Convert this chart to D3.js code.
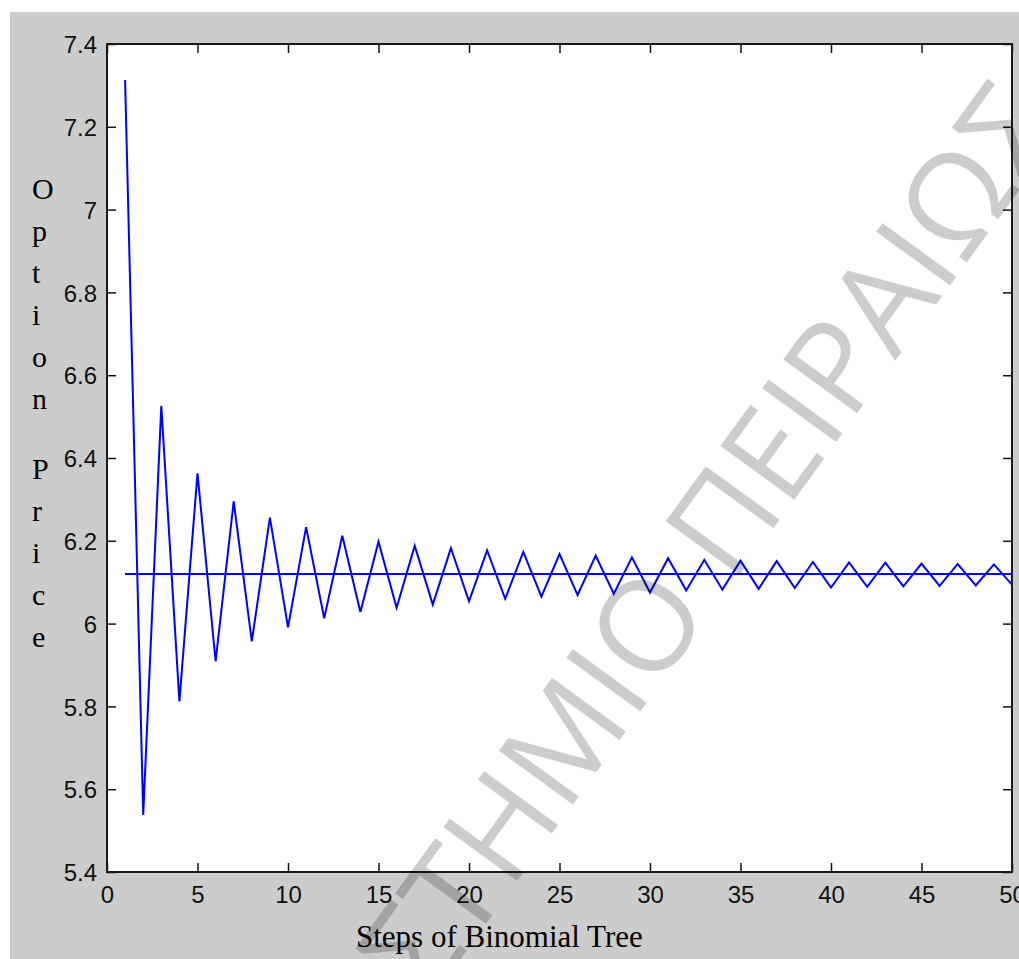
<!DOCTYPE html>
<html>
<head>
<meta charset="utf-8">
<script src="https://cdn.jsdelivr.net/npm/d3@7/dist/d3.min.js"></script>
<style>
  html, body { margin: 0; padding: 0; background: #ffffff; }
  svg { display: block; }
</style>
</head>
<body>
<script>
// ---- data ----
const steps = d3.range(1, 51);
const optionPrice = [
  7.313, 5.538, 6.526, 5.812, 6.363, 5.909, 6.295, 5.957, 6.256, 5.991,
  6.233, 6.013, 6.212, 6.028, 6.198, 6.038, 6.188, 6.046, 6.182, 6.054,
  6.177, 6.060, 6.173, 6.065, 6.168, 6.069, 6.164, 6.072, 6.160, 6.075,
  6.158, 6.080, 6.154, 6.082, 6.152, 6.084, 6.151, 6.086, 6.149, 6.087,
  6.148, 6.089, 6.147, 6.090, 6.145, 6.091, 6.144, 6.092, 6.143, 6.094
];
const blackScholes = 6.12;
const xTicks = [0, 5, 10, 15, 20, 25, 30, 35, 40, 45, 50];
const yTicks = [5.4, 5.6, 5.8, 6.0, 6.2, 6.4, 6.6, 6.8, 7.0, 7.2, 7.4];
const xDomain = [0, 50];
const yDomain = [5.4, 7.4];
const xLabel = "Steps of Binomial Tree";
const yLabel = "Option Price";
const watermark = "ΠΑΝΕΠΙΣΤΗΜΙΟ ΠΕΙΡΑΙΩΣ";

// ---- layout ----
const W = 1019, H = 959;
const ax = { left: 107, top: 44, right: 1012, bottom: 872 };

const svg = d3.select("body").append("svg")
  .attr("width", W).attr("height", H);

svg.append("rect").attr("x", 0).attr("y", 0).attr("width", W).attr("height", H).attr("fill", "#ffffff");
svg.append("rect").attr("x", 10).attr("y", 12).attr("width", W - 10).attr("height", H - 12).attr("fill", "#cccccc");
svg.append("rect")
  .attr("x", ax.left).attr("y", ax.top)
  .attr("width", ax.right - ax.left).attr("height", ax.bottom - ax.top)
  .attr("fill", "#ffffff");

const x = d3.scaleLinear().domain(xDomain).range([ax.left, ax.right]);
const y = d3.scaleLinear().domain(yDomain).range([ax.bottom, ax.top]);

// ---- data lines ----
svg.append("clipPath").attr("id", "clip")
  .append("rect").attr("x", ax.left).attr("y", ax.top)
  .attr("width", ax.right - ax.left).attr("height", ax.bottom - ax.top);

const plot = svg.append("g").attr("clip-path", "url(#clip)");

plot.append("path")
  .datum([[steps[0], blackScholes], [steps[steps.length - 1], blackScholes]])
  .attr("d", d3.line().x(d => x(d[0])).y(d => y(d[1])))
  .attr("fill", "none").attr("stroke", "#0000ff").attr("stroke-width", 2)
  .attr("shape-rendering", "crispEdges");

plot.append("path")
  .datum(steps.map((s, i) => [s, optionPrice[i]]))
  .attr("d", d3.line().x(d => x(d[0])).y(d => y(d[1])))
  .attr("fill", "none").attr("stroke", "#0000ff").attr("stroke-width", 2)
  .attr("stroke-linejoin", "miter");

// ---- axes ----
const tickFont = "'Liberation Sans', Arial, Helvetica, sans-serif";
const fmtY = d => (Math.abs(d - Math.round(d)) < 1e-9 ? d3.format("d")(d) : d3.format(".1f")(d));

function styleAxis(g) {
  g.selectAll(".domain").remove();
  g.selectAll(".tick line").attr("stroke", "#111").attr("stroke-width", 1.5);
  g.selectAll(".tick text").attr("fill", "#111")
    .attr("font-family", tickFont).attr("font-size", 24);
}

svg.append("g").attr("transform", `translate(0,${ax.bottom})`)
  .call(d3.axisBottom(x).tickValues(xTicks).tickSizeInner(-9).tickSizeOuter(0).tickPadding(14).tickFormat(d3.format("d")))
  .call(styleAxis);
svg.append("g").attr("transform", `translate(0,${ax.top})`)
  .call(d3.axisTop(x).tickValues(xTicks).tickSizeInner(-9).tickSizeOuter(0).tickFormat(""))
  .call(styleAxis);
svg.append("g").attr("transform", `translate(${ax.left},0)`)
  .call(d3.axisLeft(y).tickValues(yTicks).tickSizeInner(-9).tickSizeOuter(0).tickPadding(10).tickFormat(fmtY))
  .call(styleAxis)
  .call(g => g.selectAll(".tick text").attr("dy", "0.36em"));
svg.append("g").attr("transform", `translate(${ax.right},0)`)
  .call(d3.axisRight(y).tickValues(yTicks).tickSizeInner(-9).tickSizeOuter(0).tickFormat(""))
  .call(styleAxis);

// box
svg.append("rect")
  .attr("x", ax.left).attr("y", ax.top)
  .attr("width", ax.right - ax.left).attr("height", ax.bottom - ax.top)
  .attr("fill", "none").attr("stroke", "#1a1a1a").attr("stroke-width", 2);

// ---- labels ----
const serif = "'Liberation Serif', 'Times New Roman', Times, serif";
svg.append("text")
  .attr("x", 356).attr("y", 947)
  .attr("font-family", serif).attr("font-size", 31).attr("fill", "#000")
  .text(xLabel);

let yy = 199;
const yl = svg.append("g");
yLabel.split("").forEach((ch, i) => {
  if (ch === " ") { yy += 28; return; }
  if (i > 0) yy += 42;
  yl.append("text")
    .attr("x", 32).attr("y", yy)
    .attr("font-family", serif).attr("font-size", 30).attr("fill", "#000")
    .text(ch);
});

// ---- watermark ----
svg.append("text")
  .attr("transform", "translate(1065,127) rotate(-54)")
  .attr("text-anchor", "end")
  .attr("font-family", "'Open Sans', 'Noto Sans', 'DejaVu Sans', sans-serif")
  .attr("font-weight", 400)
  .attr("font-size", 128)
  .attr("fill", "#000").attr("fill-opacity", 0.2)
  .text(watermark);
</script>
</body>
</html>
